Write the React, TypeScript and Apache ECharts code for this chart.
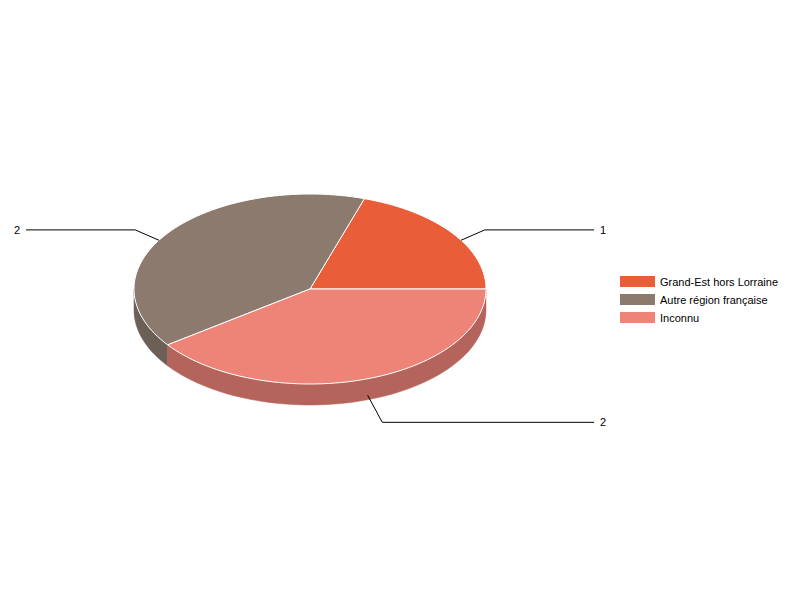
import React, { useEffect, useRef } from 'react';
import * as echarts from 'echarts';

// données du graphique
const categories = ['Grand-Est hors Lorraine', 'Autre région française', 'Inconnu'];
const values = [1, 2, 2];

const topColors = ['#E95D38', '#8B7A6D', '#EE8377'];
const sideColors = ['#B5482B', '#6C5F55', '#B4645A'];

// géométrie du camembert 3D
const CX = 310;
const CY = 289;
const RX = 176;
const RY = 95;
const DEPTH = 21;
const LABEL_EDGE = 284;

const total = values.reduce((a, b) => a + b, 0);
const startAngles: number[] = [];
const endAngles: number[] = [];
let cum = 0;
values.forEach(v => {
  startAngles.push((cum / total) * 360);
  cum += v;
  endAngles.push((cum / total) * 360);
});

const rad = (d: number) => (d * Math.PI) / 180;
const pt = (deg: number, dy = 0, k = 1): number[] => [
  CX + k * RX * Math.cos(rad(deg)),
  CY - k * RY * Math.sin(rad(deg)) + dy
];

const arc = (a0: number, a1: number, dy = 0) => {
  const pts: number[][] = [];
  const steps = Math.max(2, Math.ceil((a1 - a0) / 2));
  for (let s = 0; s <= steps; s++) {
    pts.push(pt(a0 + ((a1 - a0) * s) / steps, dy));
  }
  return pts;
};

const renderSlice = (params: any) => {
  const i = params.seriesIndex;
  const a0 = startAngles[i];
  const a1 = endAngles[i];
  const children: any[] = [];

  // face latérale (moitié avant uniquement)
  const s = Math.max(a0, 180);
  const e = Math.min(a1, 360);
  if (e > s) {
    const top = arc(s, e);
    const bottom = arc(s, e, DEPTH).reverse();
    children.push({
      type: 'polygon',
      shape: { points: top.concat(bottom) },
      style: { fill: sideColors[i], stroke: sideColors[i], lineWidth: 0.5 },
      silent: true
    });
  }

  // face supérieure
  children.push({
    type: 'polygon',
    shape: { points: [[CX, CY]].concat(arc(a0, a1)) },
    style: { fill: topColors[i], stroke: '#ffffff', lineWidth: 1 },
    silent: true
  });

  // étiquette
  const m = (a0 + a1) / 2;
  const cosM = Math.cos(rad(m));
  const sinM = Math.sin(rad(m));
  const start = pt(m, DEPTH / 2, 1.06);
  let dx = cosM;
  let dy = -0.6 * sinM;
  const n = Math.hypot(dx, dy);
  dx /= n;
  dy /= n;
  const len = 26 + 5 * Math.max(0, -sinM);
  const elbow = [start[0] + dx * len, start[1] + dy * len];
  const right = cosM >= 0;
  const endX = right ? CX + LABEL_EDGE : CX - LABEL_EDGE;
  children.push({
    type: 'polyline',
    shape: { points: [start, elbow, [endX, elbow[1]]] },
    style: { stroke: '#000000', lineWidth: 1, fill: 'none' },
    silent: true
  });
  children.push({
    type: 'text',
    x: right ? endX + 6 : endX - 6,
    y: elbow[1],
    style: {
      text: String(values[i]),
      fill: '#000000',
      font: '11px Arial, "Liberation Sans", sans-serif',
      align: right ? 'left' : 'right',
      verticalAlign: 'middle'
    },
    silent: true
  });

  return { type: 'group', children };
};

const App: React.FC = () => {
  const chartRef = useRef<HTMLDivElement>(null);

  useEffect(() => {
    document.body.style.margin = '0';
    if (!chartRef.current) return;
    const chart = echarts.init(chartRef.current, null, { renderer: 'svg' });

    const option = {
      animation: false,
      backgroundColor: '#ffffff',
      legend: {
        orient: 'vertical',
        left: 620,
        top: 276,
        padding: 0,
        icon: 'rect',
        itemWidth: 35,
        itemHeight: 11,
        itemGap: 7,
        selectedMode: false,
        data: categories,
        textStyle: {
          fontSize: 11,
          color: '#000000',
          fontFamily: 'Arial, "Liberation Sans", sans-serif'
        }
      },
      series: categories.map((name, i) => ({
        name,
        type: 'custom',
        coordinateSystem: 'none',
        itemStyle: { color: topColors[i] },
        renderItem: renderSlice,
        data: [values[i]]
      }))
    };

    chart.setOption(option);

    return () => {
      chart.dispose();
    };
  }, []);

  return <div ref={chartRef} style={{ width: '800px', height: '600px' }}></div>;
};

export default App;
